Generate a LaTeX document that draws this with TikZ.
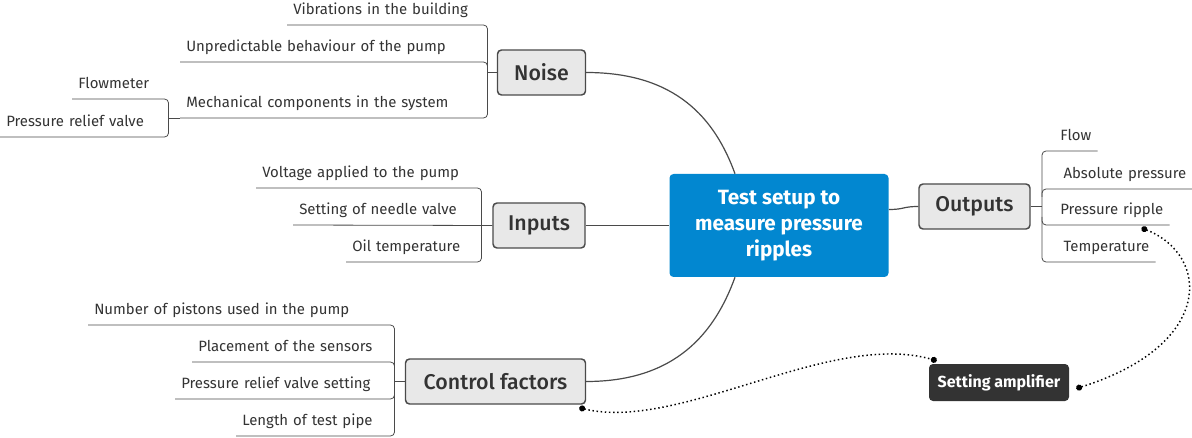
\documentclass[tikz,border=0pt]{standalone}
\usepackage{fontspec}
\setmainfont{Fira Sans}
\IfFontExistsTF{Fira Sans Medium}{\newfontfamily\topicfont{Fira Sans Medium}}{\newfontfamily\topicfont{Fira Sans}}
\usetikzlibrary{calc,arrows.meta}
\definecolor{txtgray}{HTML}{333333}
\definecolor{linegray}{HTML}{4A4A4A}
\definecolor{topicfill}{HTML}{E8E8E8}
\definecolor{centralblue}{HTML}{0287D0}
\definecolor{ampfill}{HTML}{333333}
\begin{document}
\begin{tikzpicture}[x=0.75pt,y=-0.75pt,
	central/.style={fill=centralblue,rounded corners=3pt,text=white,align=center,inner sep=0pt,minimum width=164.25pt,minimum height=77.25pt,font=\fontsize{15.5}{19.5}\selectfont\bfseries},
	topic/.style={draw=linegray,fill=topicfill,line width=1.1pt,rounded corners=3pt,text=txtgray,inner sep=0pt,minimum height=33.75pt,font=\topicfont\fontsize{16}{18}\selectfont},
	lbl/.style={anchor=south west,align=left,inner xsep=4.5pt,inner ysep=7.5pt,text depth=0pt,text=txtgray,font=\fontsize{11.2}{13}\selectfont},
	lblr/.style={lbl,align=right},
	ampbox/.style={fill=ampfill,rounded corners=3pt,text=white,inner sep=0pt,minimum width=105pt,minimum height=27.75pt,font=\fontsize{12}{14}\selectfont\bfseries},
	branch/.style={draw=linegray,line width=0.6pt},
	mainline/.style={draw=linegray,line width=0.9pt},
	link/.style={black,line width=1.1pt,dotted,{Circle[length=4.5pt]}-{Circle[length=4.5pt]}}]
	\useasboundingbox (0,0) rectangle (1192,438);

	% topics
	\node[central] (central) at (779,225.5) {Test setup to\\measure pressure\\ripples};
	\node[topic,minimum width=66pt] (noise) at (541.5,72.5) {Noise};
	\node[topic,minimum width=69pt] (inputs) at (539,225.5) {Inputs};
	\node[topic,minimum width=135pt] (ctrl) at (495.5,381.5) {Control factors};
	\node[topic,minimum width=83.25pt] (outputs) at (974.5,206.5) {Outputs};
	\node[ampbox] (amp) at (999,382.5) {Setting amplifier};

	\draw[mainline] (noise.east) .. controls +(90,0) and +(-20,-55) .. ($(central.north)+(-44,0)$);
	\draw[mainline] (ctrl.east) .. controls +(90,0) and +(-20,55) .. ($(central.south)+(-44,0)$);
	\draw[mainline] (inputs.east) -- (central.west);
	\draw[mainline] ($(central.east)+(0,-16)$) .. controls +(16,0) and +(-16,0) .. (outputs.west);

	% noise
	\node[lbl,text width=141pt] (vib) at (287,25) {Vibrations in the building};
	\node[lbl,text width=221.25pt] (unp) at (180,62) {Unpredictable behaviour of the pump};
	\node[lbl,text width=221.25pt] (mech) at (180,118) {Mechanical components in the system};
	\node[lbl,text width=63pt] (flowm) at (72,99) {Flowmeter};
	\node[lbl,text width=117pt] (prv) at (0,137) {Pressure relief valve};
	\draw[branch] (noise.west) -- (noise.west -| vib.south east);
	\draw[branch,rounded corners=3pt] (vib.south west) -- (vib.south east) -- (mech.south east) -- (mech.south west);
	\draw[branch,rounded corners=3pt] (unp.south west) -- (unp.south east) -- ++(0,10);
	\draw[branch,rounded corners=3pt] (flowm.south west) -- (flowm.south east) -- (prv.south east) -- (prv.south west);
	\draw[branch] (mech.south west -| flowm.south east) -- (mech.south west);

	% inputs
	\node[lbl,text width=159.75pt] (volt) at (256,188) {Voltage applied to the pump};
	\node[lbl,text width=132pt] (needle) at (293,225) {Setting of needle valve};
	\node[lbl,text width=92.25pt] (oil) at (346,262) {Oil temperature};
	\draw[branch,rounded corners=3pt] (volt.south west) -- (volt.south east) -- (oil.south east) -- (oil.south west);
	\draw[branch] (needle.south west) -- (inputs.west);

	% control factors
	\node[lbl,text width=220.5pt] (pist) at (88,325) {Number of pistons used in the pump};
	\node[lbl,text width=142.5pt] (place) at (192,362) {Placement of the sensors};
	\node[lbl,text width=155.25pt] (prvs) at (175,399) {Pressure relief valve setting};
	\node[lbl,text width=109.5pt] (len) at (236,436) {Length of test pipe};
	\draw[branch] (ctrl.west) -- (ctrl.west -| pist.south east);
	\draw[branch,rounded corners=3pt] (pist.south west) -- (pist.south east) -- (len.south east) -- (len.south west);
	\draw[branch,rounded corners=3pt] (place.south west) -- (place.south east) -- ++(0,8);
	\draw[branch,rounded corners=3pt] (prvs.south west) -- (prvs.south east) -- ++(0,-8);

	% outputs
	\node[lblr,text width=32.25pt] (flow) at (1042,151) {Flow};
	\node[lblr,text width=103.5pt] (abs) at (1042,189) {Absolute pressure};
	\node[lblr,text width=86.25pt] (ripple) at (1042,225) {Pressure ripple};
	\node[lblr,text width=75.75pt] (temp) at (1042,262) {Temperature};
	\draw[branch] (outputs.east) -- (outputs.east -| flow.south west);
	\draw[branch,rounded corners=3pt] (flow.south east) -- (flow.south west) -- (temp.south west) -- (temp.south east);
	\draw[branch,rounded corners=3pt] (abs.south east) -- (abs.south west) -- ++(0,8);
	\draw[branch,rounded corners=3pt] (ripple.south east) -- (ripple.south west) -- ++(0,-8);

	% amplifier links
	\draw[link] ($(ctrl.south east)+(-7,3)$) .. controls (680,432) and (830,330) .. ($(amp.north west)+(8,-3)$);
	\draw[link] ($(ripple.south east)+(-28,3)$) .. controls (1210,255) and (1215,345) .. ($(amp.east)+(7,6)$);
\end{tikzpicture}
\end{document}
